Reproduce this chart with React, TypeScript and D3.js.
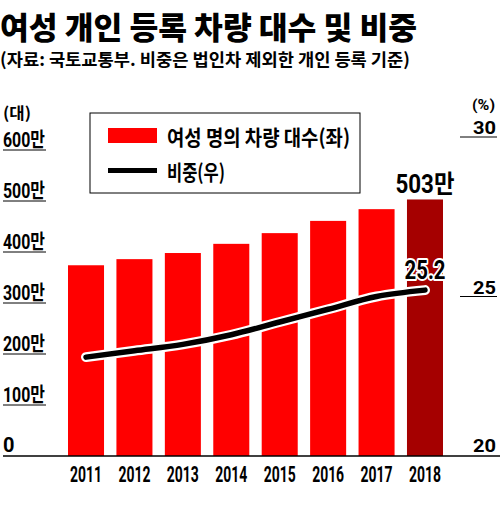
import React from 'react';
import * as d3 from 'd3';

const years = ['2011', '2012', '2013', '2014', '2015', '2016', '2017', '2018'];
// 여성 명의 차량 대수 (단위: 만 대)
const cars = [374, 386, 398, 416, 437, 461, 484, 503];
// 비중 (%)
const shares = [23.1, 23.3, 23.5, 23.8, 24.2, 24.6, 25.0, 25.2];
const leftTicks = [100, 200, 300, 400, 500, 600];
const rightTicks = [25, 30];

const KR = '"Noto Sans CJK KR", "Noto Sans", sans-serif';
const NUM = 'Roboto, "Noto Sans CJK KR", sans-serif';

const App: React.FC = () => {
  const base = 456;
  const x = d3.scaleBand<string>().domain(years).range([68, 443]).paddingInner(0.256).paddingOuter(0);
  const yL = d3.scaleLinear().domain([0, 600]).range([base, 150]);
  const yR = d3.scaleLinear().domain([20, 30]).range([base, 137]);
  const cx = (yr: string) => x(yr)! + x.bandwidth() / 2;

  const line = d3.line<number>()
    .x((_, i) => cx(years[i]))
    .y(d => yR(d))
    .curve(d3.curveMonotoneX);
  const path = line(shares) || '';

  const last = years.length - 1;
  const t = { fontFamily: KR, fontWeight: 700 } as const;
  const n = { fontFamily: NUM, fontWeight: 700 } as const;

  return (
    <svg width={500} height={521} style={{ position: 'absolute', left: 0, top: 0, background: '#fff' }}>
      {/* title */}
      <text {...t} x={0} y={39} fontSize={31} fontWeight={900} textLength={417} lengthAdjust="spacingAndGlyphs">
        여성 개인 등록 차량 대수 및 비중
      </text>
      <text {...t} x={0} y={66} fontSize={17.5} textLength={410} lengthAdjust="spacingAndGlyphs">
        (자료: 국토교통부. 비중은 법인차 제외한 개인 등록 기준)
      </text>

      {/* unit labels */}
      <text {...t} x={3} y={119} fontSize={16} textLength={28} lengthAdjust="spacingAndGlyphs">(대)</text>
      <text {...n} x={495} y={110} fontSize={15} textAnchor="end" textLength={23} lengthAdjust="spacingAndGlyphs">(%)</text>

      {/* left ticks */}
      {leftTicks.map(v => (
        <g key={v}>
          <text {...n} x={3} y={yL(v) - 3} fontSize={20} textLength={42} lengthAdjust="spacingAndGlyphs">
            {`${v}만`}
          </text>
          <line x1={3} x2={46} y1={yL(v)} y2={yL(v)} stroke="#000" strokeWidth={1} />
        </g>
      ))}
      <text {...n} x={3} y={base - 4} fontSize={20}>0</text>

      {/* right ticks */}
      {rightTicks.map(v => (
        <g key={v}>
          <text {...n} x={496} y={yR(v) - 3} fontSize={19} textAnchor="end" textLength={23} lengthAdjust="spacingAndGlyphs">
            {`${v}`}
          </text>
          <line x1={460} x2={497} y1={yR(v)} y2={yR(v)} stroke="#000" strokeWidth={1} />
        </g>
      ))}
      <text {...n} x={496} y={base - 4} fontSize={19} textAnchor="end" textLength={23} lengthAdjust="spacingAndGlyphs">20</text>

      {/* bars */}
      {years.map((yr, i) => (
        <rect key={yr} x={x(yr)} y={yL(cars[i])} width={x.bandwidth()} height={base - yL(cars[i])}
          fill={i === last ? '#a50000' : '#ff0000'} />
      ))}

      {/* axis */}
      <line x1={3} x2={500} y1={base} y2={base} stroke="#000" strokeWidth={1.5} />
      {years.map(yr => (
        <text {...n} key={yr} x={cx(yr)} y={482} fontSize={22} textAnchor="middle" textLength={32} lengthAdjust="spacingAndGlyphs">
          {yr}
        </text>
      ))}

      {/* share line */}
      <path d={path} fill="none" stroke="#fff" strokeWidth={10} strokeLinecap="round" />
      <path d={path} fill="none" stroke="#000" strokeWidth={5.5} strokeLinecap="round" />

      {/* annotations */}
      <text {...n} x={cx(years[last])} y={yL(cars[last]) - 6} fontSize={25} textAnchor="middle" textLength={59} lengthAdjust="spacingAndGlyphs">
        {`${cars[last]}만`}
      </text>
      <text {...n} x={cx(years[last])} y={yR(shares[last]) - 11} fontSize={25} textAnchor="middle" textLength={41} lengthAdjust="spacingAndGlyphs"
        stroke="#fff" strokeWidth={4} paintOrder="stroke" strokeLinejoin="round">
        {`${shares[last]}`}
      </text>

      {/* legend */}
      <rect x={90} y={113} width={270} height={80} fill="#fff" stroke="#000" strokeWidth={1} />
      <rect x={108} y={128} width={49} height={15} fill="#ff0000" />
      <text {...t} x={167} y={145} fontSize={21} textLength={183} lengthAdjust="spacingAndGlyphs">
        여성 명의 차량 대수(좌)
      </text>
      <rect x={108} y={168} width={49} height={5} fill="#000" />
      <text {...t} x={167} y={180} fontSize={21} textLength={58} lengthAdjust="spacingAndGlyphs">
        비중(우)
      </text>
    </svg>
  );
};

export default App;
